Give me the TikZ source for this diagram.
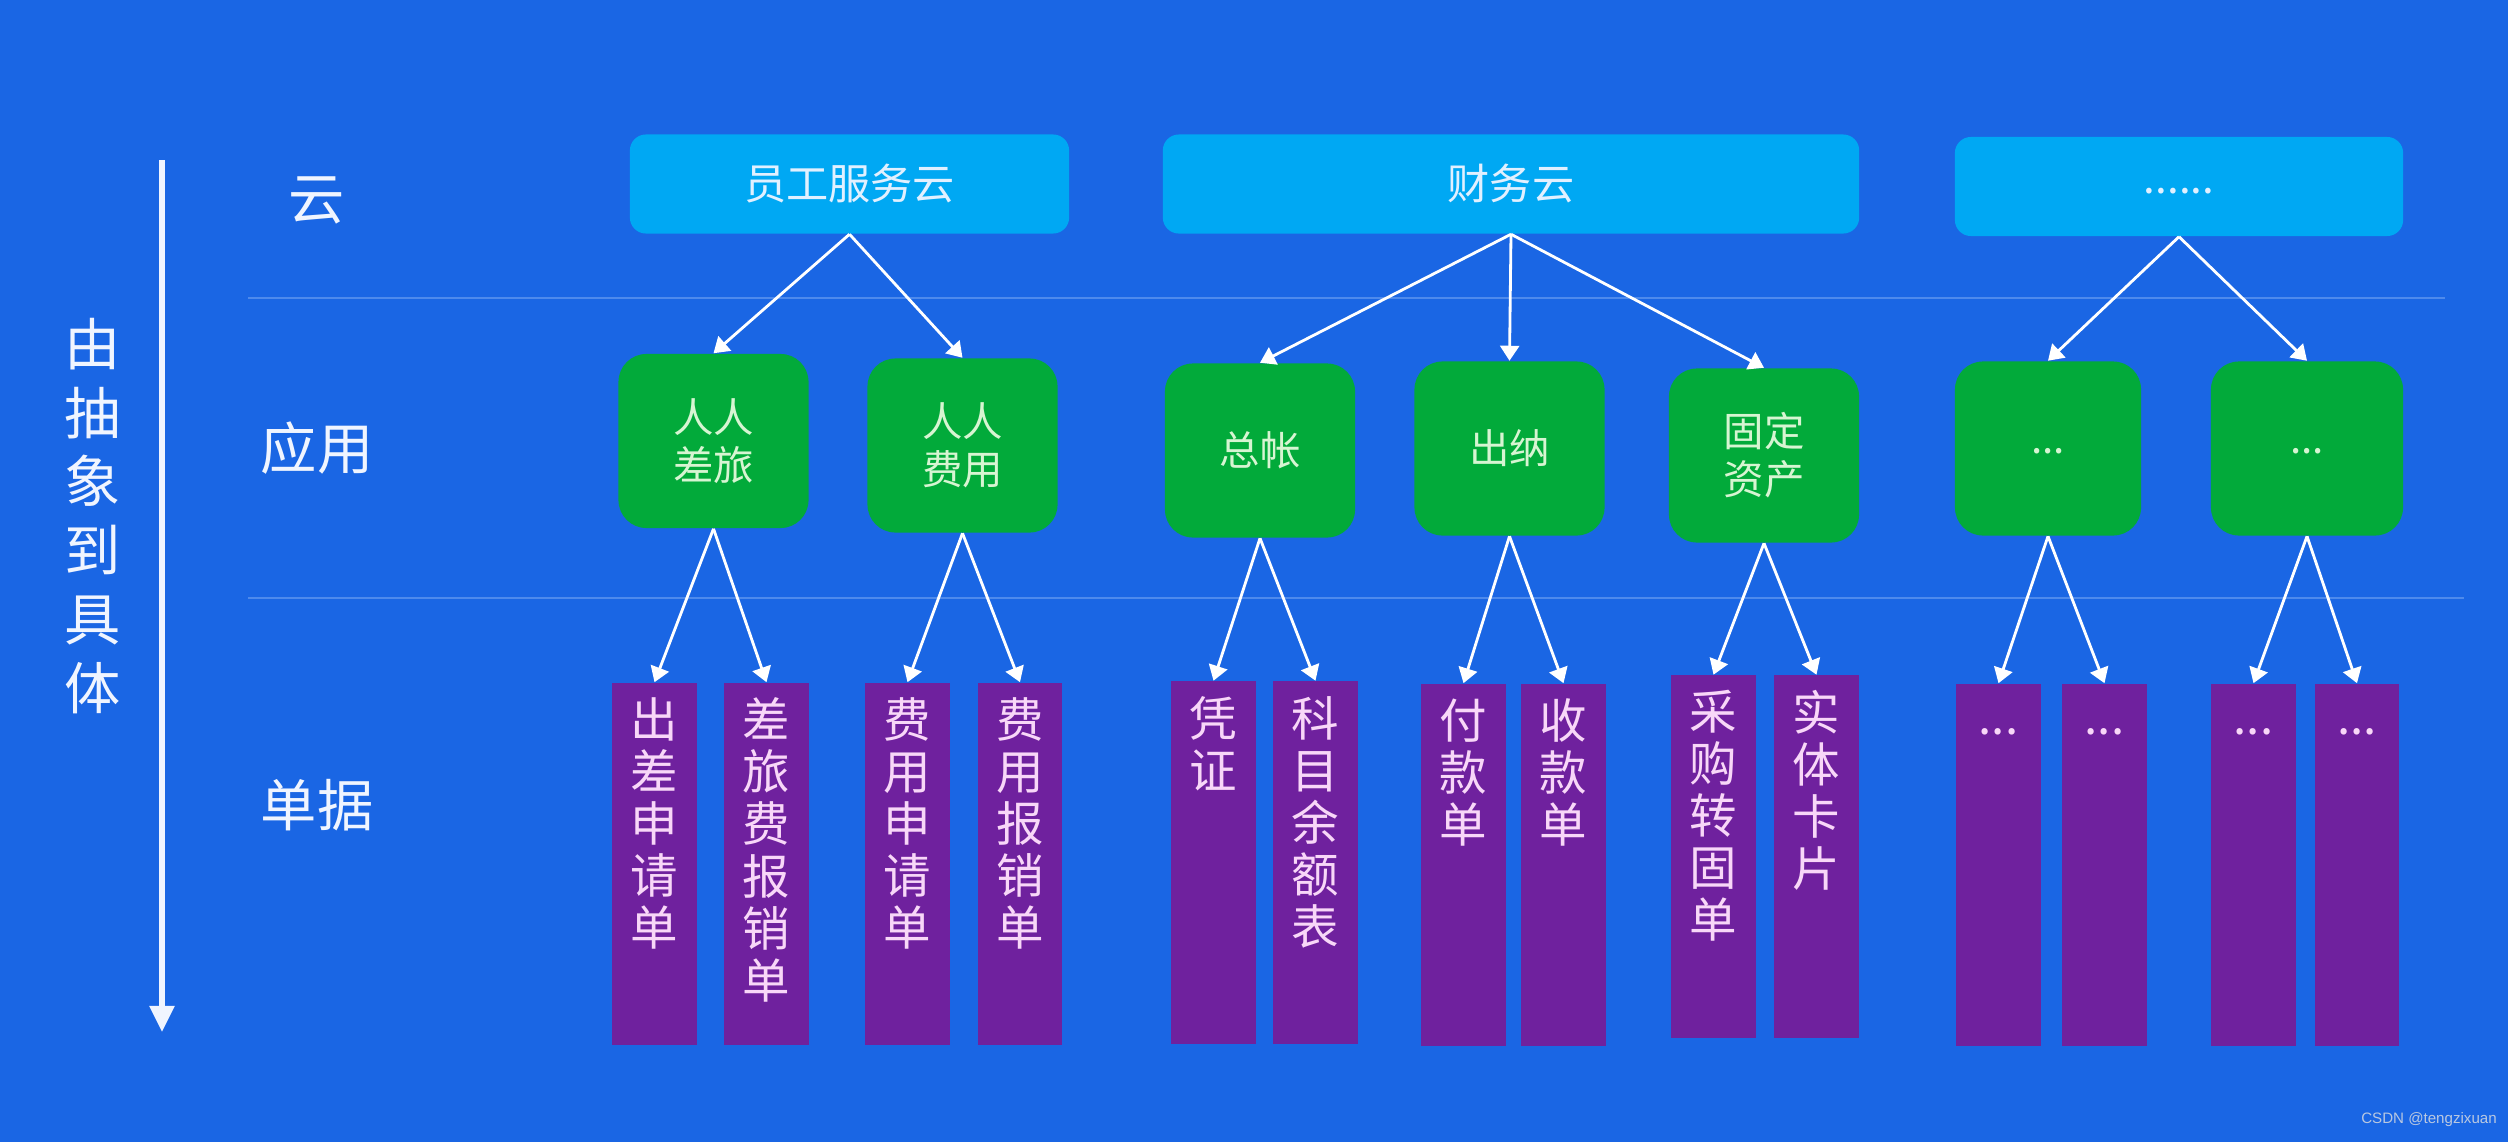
\documentclass[tikz,border=0pt]{standalone}
\usepackage{fontspec}
\newfontfamily\cjk{Noto Sans CJK SC}
\newfontfamily\latinsans{Liberation Sans}
\usetikzlibrary{arrows.meta}
\definecolor{bgblue}{RGB}{26,102,228}
\definecolor{cloudblue}{RGB}{0,168,243}
\definecolor{appgreen}{RGB}{2,170,58}
\definecolor{docpurple}{RGB}{111,33,158}
\definecolor{sepline}{RGB}{78,138,236}
\definecolor{cloudtext}{RGB}{225,240,255}
\definecolor{apptext}{RGB}{215,245,210}
\definecolor{doctext}{RGB}{248,215,248}
\definecolor{labeltext}{RGB}{240,245,255}
\definecolor{marktext}{RGB}{185,200,225}
\newcommand\barlabel[1]{\parbox[c][3.62cm][t]{0.84cm}{\centering\vspace*{0.15cm}#1}}
\newcommand\bardots{\rule{0pt}{10pt}...}
\begin{document}
\begin{tikzpicture}[x=0.01cm,y=-0.01cm,
  cloudbox/.style={fill=cloudblue, rounded corners=0.16cm, minimum height=0.99cm, inner sep=0pt,
    font=\cjk\fontsize{12}{14}\selectfont, text=cloudtext},
  appbox/.style={fill=appgreen, rounded corners=0.28cm, minimum width=1.9cm, minimum height=1.74cm, inner sep=0pt,
    align=center, font=\cjk\fontsize{11.5}{13.6}\selectfont, text=apptext},
  docbar/.style={fill=docpurple, inner sep=0pt, text=doctext, font=\cjk\fontsize{13.5}{14.8}\selectfont},
  rowlabel/.style={text=labeltext, font=\cjk\fontsize{16}{19}\selectfont, inner sep=0pt},
  conn/.style={draw=white, line width=0.8pt, -{Triangle[width=0.19cm,length=0.15cm]}},
  sep/.style={draw=sepline, line width=0.6pt}
]
\fill[bgblue] (0,0) rectangle (2508,1142);
\useasboundingbox (0,0) rectangle (2508,1142);

% left axis
\coordinate (vtop) at (162,160);
\coordinate (vbot) at (162,1032);
\draw[draw=labeltext, line width=1.5pt, -{Triangle[width=0.24cm,length=0.26cm]}] (vtop) -- (vbot);
\node[text=labeltext, font=\cjk\fontsize{16}{19.6}\selectfont, align=center, inner sep=0pt] (vlabel) at (93,516) {由\\抽\\象\\到\\具\\体};

% row labels
\node[rowlabel] (r1) at (317,200) {云};
\node[rowlabel] (r2) at (317,448) {应用};
\node[rowlabel] (r3) at (317,805) {单据};

% separators
\coordinate (s1a) at (248,298); \coordinate (s1b) at (2445,298);
\coordinate (s2a) at (248,598); \coordinate (s2b) at (2464,598);
\draw[sep] (s1a) -- (s1b);
\draw[sep] (s2a) -- (s2b);

% clouds
\node[cloudbox, minimum width=4.39cm] (c1) at (849.5,184) {员工服务云};
\node[cloudbox, minimum width=6.96cm] (c2) at (1511,184) {财务云};
\node[cloudbox, minimum width=4.48cm] (c3) at (2179,186.5) {\raisebox{-0.14cm}{......}};

% apps
\node[appbox] (g1) at (713.5,441) {人人\\差旅};
\node[appbox] (g2) at (962.5,445.5) {人人\\费用};
\node[appbox] (g3) at (1260,450.5) {总帐};
\node[appbox] (g4) at (1509.5,448.5) {出纳};
\node[appbox] (g5) at (1764,455.5) {固定\\资产};
\node[appbox, minimum width=1.86cm] (g6) at (2048,448.5) {\raisebox{-0.1cm}{...}};
\node[appbox, minimum width=1.92cm] (g7) at (2307,448.5) {\raisebox{-0.1cm}{...}};

% documents
\node[docbar] (p1) at (654.5,864) {\barlabel{出\\差\\申\\请\\单}};
\node[docbar] (p2) at (766.5,864) {\barlabel{差\\旅\\费\\报\\销\\单}};
\node[docbar] (p3) at (907.5,864) {\barlabel{费\\用\\申\\请\\单}};
\node[docbar] (p4) at (1020,864) {\barlabel{费\\用\\报\\销\\单}};
\node[docbar] (p5) at (1213.5,862.5) {\barlabel{凭\\证}};
\node[docbar] (p6) at (1315.5,862.5) {\barlabel{科\\目\\余\\额\\表}};
\node[docbar] (p7) at (1463.5,865) {\barlabel{付\\款\\单}};
\node[docbar] (p8) at (1563.5,865) {\barlabel{收\\款\\单}};
\node[docbar] (p9) at (1713.5,856.5) {\barlabel{采\\购\\转\\固\\单}};
\node[docbar] (p10) at (1816.5,856.5) {\barlabel{实\\体\\卡\\片}};
\node[docbar] (p11) at (1998.5,865) {\barlabel{\bardots}};
\node[docbar] (p12) at (2104.5,865) {\barlabel{\bardots}};
\node[docbar] (p13) at (2253.5,865) {\barlabel{\bardots}};
\node[docbar] (p14) at (2357,865) {\barlabel{\bardots}};

% connectors cloud -> app
\draw[conn] (c1.south) -- (g1.north);
\draw[conn] (c1.south) -- (g2.north);
\draw[conn] (c2.south) -- (g3.north);
\draw[conn] (c2.south) -- (g4.north);
\draw[conn] (c2.south) -- (g5.north);
\draw[conn] (c3.south) -- (g6.north);
\draw[conn] (c3.south) -- (g7.north);

% connectors app -> document
\draw[conn] (g1.south) -- (p1.north);
\draw[conn] (g1.south) -- (p2.north);
\draw[conn] (g2.south) -- (p3.north);
\draw[conn] (g2.south) -- (p4.north);
\draw[conn] (g3.south) -- (p5.north);
\draw[conn] (g3.south) -- (p6.north);
\draw[conn] (g4.south) -- (p7.north);
\draw[conn] (g4.south) -- (p8.north);
\draw[conn] (g5.south) -- (p9.north);
\draw[conn] (g5.south) -- (p10.north);
\draw[conn] (g6.south) -- (p11.north);
\draw[conn] (g6.south) -- (p12.north);
\draw[conn] (g7.south) -- (p13.north);
\draw[conn] (g7.south) -- (p14.north);

% watermark
\node[text=marktext, font=\latinsans\fontsize{4.3}{5}\selectfont, inner sep=0pt] (wm) at (2429,1120) {CSDN @tengzixuan};
\end{tikzpicture}
\end{document}
